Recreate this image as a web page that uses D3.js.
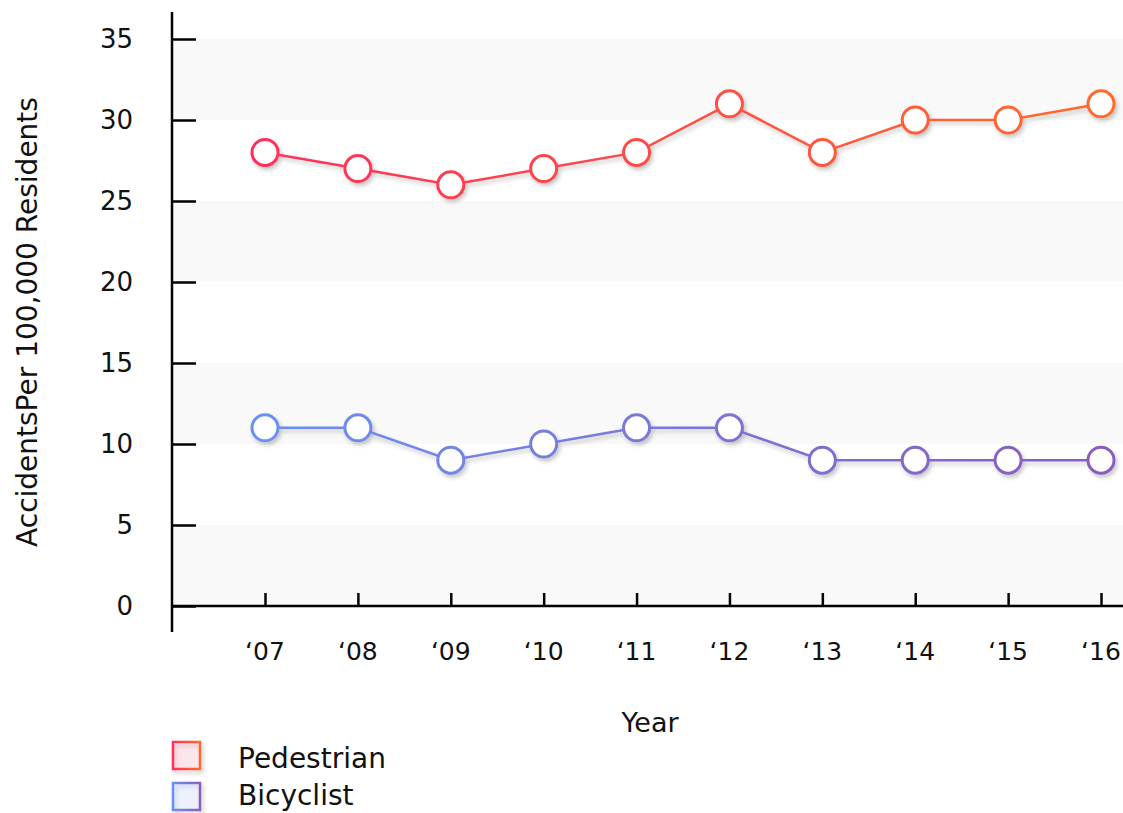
<!DOCTYPE html>
<html><head><meta charset="utf-8">
<script src="https://cdn.jsdelivr.net/npm/d3@7"></script>
<style>
body{margin:0;background:#fff;}
text{font-family:"DejaVu Sans",sans-serif;fill:#111;}
</style></head>
<body>
<svg id="chart" width="1123" height="813"></svg>
<script>
const years = ["‘07","‘08","‘09","‘10","‘11","‘12","‘13","‘14","‘15","‘16"];
const pedestrian = [28,27,26,27,28,31,28,30,30,31];
const bicyclist = [11,11,9,10,11,11,9,9,9,9];
const yTicks = [0,5,10,15,20,25,30,35];
const seriesNames = ["Pedestrian","Bicyclist"];
const seriesColors = [["#ff2f5b","#ff6b2b"],["#6b90f0","#8a5bbf"]];

const svg = d3.select("#chart");
const x = d3.scalePoint().domain(years).range([265,1101]);
const y = d3.scaleLinear().domain([0,35]).range([606,39]);
const axisX = 172;

const defs = svg.append("defs");
const f = defs.append("filter").attr("id","shadow").attr("x","-50%").attr("y","-50%").attr("width","200%").attr("height","200%");
f.append("feDropShadow").attr("dx",2).attr("dy",3).attr("stdDeviation",2.2).attr("flood-color","#000").attr("flood-opacity",0.22);
seriesColors.forEach((c,i)=>{
  const g = defs.append("linearGradient").attr("id","grad"+i).attr("gradientUnits","userSpaceOnUse")
    .attr("x1",x(years[0])).attr("x2",x(years[years.length-1])).attr("y1",0).attr("y2",0);
  g.append("stop").attr("offset","0%").attr("stop-color",c[0]);
  g.append("stop").attr("offset","100%").attr("stop-color",c[1]);
  const gl = defs.append("linearGradient").attr("id","lgrad"+i).attr("x1",0).attr("x2",1).attr("y1",0).attr("y2",0);
  gl.append("stop").attr("offset","0%").attr("stop-color",c[0]);
  gl.append("stop").attr("offset","100%").attr("stop-color",c[1]);
});

// bands
for (let i=0;i<yTicks.length-1;i++){
  const lo=yTicks[i], hi=yTicks[i+1];
  if (i%2===0) svg.append("rect").attr("x",axisX).attr("width",1123-axisX)
     .attr("y",y(hi)).attr("height",y(lo)-y(hi)).attr("fill","#f9f9f9");
}

// y axis
const gy = svg.append("g").attr("transform",`translate(${axisX},0)`)
  .call(d3.axisRight(y).tickValues(yTicks).tickSize(24).tickFormat(""));
gy.select(".domain").remove();
gy.selectAll("line").attr("stroke","#000").attr("stroke-width",2.5);
svg.append("line").attr("x1",axisX).attr("x2",axisX).attr("y1",12).attr("y2",632).attr("stroke","#000").attr("stroke-width",2.5);
svg.append("g").selectAll("text").data(yTicks).join("text")
  .attr("x",133).attr("y",d=>y(d)).attr("dy","0.36em").attr("text-anchor","end")
  .attr("font-size",26).text(d=>d);

// x axis
svg.append("line").attr("x1",axisX).attr("x2",1123).attr("y1",606).attr("y2",606).attr("stroke","#000").attr("stroke-width",2.5);
const gx = svg.append("g").attr("transform","translate(0,606)")
  .call(d3.axisTop(x).tickSize(13).tickFormat(""));
gx.select(".domain").remove();
gx.selectAll("line").attr("stroke","#000").attr("stroke-width",2.5);
svg.append("g").selectAll("text").data(years).join("text")
  .attr("x",d=>x(d)).attr("y",660).attr("text-anchor","middle").attr("font-size",25).text(d=>d);

svg.append("text").attr("x",650).attr("y",732).attr("text-anchor","middle").attr("font-size",27).text("Year");
svg.append("text").attr("transform","translate(37,322) rotate(-90)").attr("text-anchor","middle")
  .attr("font-size",28).text("AccidentsPer 100,000 Residents");

// series
const line = d3.line().x((d,i)=>x(years[i])).y(d=>y(d));
[pedestrian,bicyclist].forEach((data,si)=>{
  const g = svg.append("g").attr("filter","url(#shadow)");
  g.append("path").datum(data).attr("d",line).attr("fill","none")
    .attr("stroke",`url(#grad${si})`).attr("stroke-width",2.5);
  g.selectAll("circle").data(data).join("circle")
    .attr("cx",(d,i)=>x(years[i])).attr("cy",d=>y(d)).attr("r",13)
    .attr("fill","#fff").attr("stroke",`url(#grad${si})`).attr("stroke-width",3);
});

// legend
seriesNames.forEach((name,i)=>{
  const yy = 742 + i*41;
  svg.append("rect").attr("x",173).attr("y",yy).attr("width",27).attr("height",27)
    .attr("fill",seriesColors[i][0]).attr("fill-opacity",0.1)
    .attr("stroke",`url(#lgrad${i})`).attr("stroke-width",2.5).attr("filter","url(#shadow)");
  svg.append("text").attr("x",238).attr("y",i===0?768:805).attr("font-size",28).text(name);
});
</script>
</body></html>
